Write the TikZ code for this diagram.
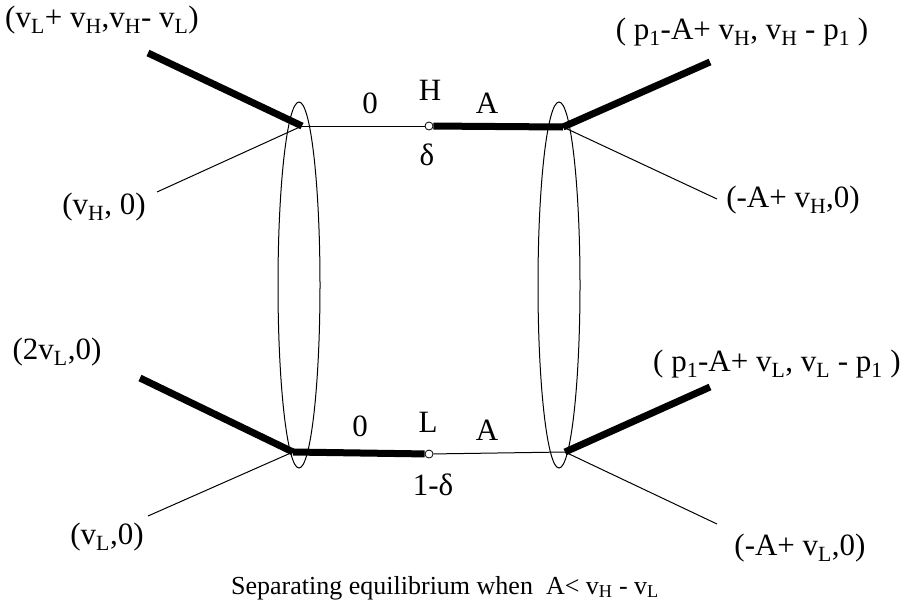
\documentclass[tikz,border=0pt]{standalone}
\usepackage{fontspec}
\setmainfont{Liberation Serif}
\newcommand{\low}[1]{\textsubscript{#1}}
\tikzset{
  eqpath/.style={line width=7pt},
  offpath/.style={line width=1pt},
  infoset/.style={line width=1pt},
  chance/.style={circle, draw, fill=white, line width=0.8pt, inner sep=0pt, minimum size=8pt},
  payoff/.style={inner sep=0pt}
}
\begin{document}
\begin{tikzpicture}[x=1pt, y=-1pt, font=\fontsize{31}{37}\selectfont]
\useasboundingbox (0,0) rectangle (904,603);

% Information sets
\draw[infoset] (299,285) ellipse (21pt and 183pt);
\draw[infoset] (559,285) ellipse (21pt and 183pt);

% Decision points
\coordinate (rH) at (302,126);
\coordinate (rL) at (293,452);
\coordinate (aH) at (563,127);
\coordinate (aL) at (565,452);
\node[chance] (nH) at (429,126) {};
\node[chance] (nL) at (429,454) {};

% Free ends
\coordinate (rHup) at (148,53);
\coordinate (rHdn) at (157,192);
\coordinate (rLup) at (140,378);
\coordinate (rLdn) at (148,516);
\coordinate (aHup) at (710,62);
\coordinate (aHdn) at (717,199);
\coordinate (aLup) at (710,387);
\coordinate (aLdn) at (717,524);

% Type H
\draw[offpath] (rH) -- (nH);
\draw[eqpath] (nH) -- (aH);
\draw[eqpath] (rHup) -- (rH);
\draw[offpath] (rH) -- (rHdn);
\draw[eqpath] (aH) -- (aHup);
\draw[offpath] (aH) -- (aHdn);

% Type L
\draw[eqpath] (rL) -- (nL);
\draw[offpath] (nL) -- (aL);
\draw[eqpath] (rLup) -- (rL);
\draw[offpath] (rL) -- (rLdn);
\draw[eqpath] (aL) -- (aLup);
\draw[offpath] (aL) -- (aLdn);

% Labels
\node (zH) at (370,103) {0};
\node (tH) at (430,90) {H};
\node (AH) at (487,103) {A};
\node (dH) at (427,155) {δ};
\node (zL) at (360,426) {0};
\node (tL) at (428,422) {L};
\node (AL) at (487,430) {A};
\node (dL) at (433,485) {1-δ};

% Payoffs
\node[payoff] (pHup) at (102,20) {(v\low{L}+ v\low{H},v\low{H}- v\low{L})};
\node[payoff] (pHdn) at (104,207) {(v\low{H}, 0)};
\node[payoff] (qHup) at (742,32) {( p\low{1}-A+ v\low{H}, v\low{H} - p\low{1} )};
\node[payoff] (qHdn) at (793,200) {(-A+ v\low{H},0)};
\node[payoff] (pLup) at (57,352) {(2v\low{L},0)};
\node[payoff] (pLdn) at (107,537) {(v\low{L},0)};
\node[payoff] (qLup) at (777,364) {( p\low{1}-A+ v\low{L}, v\low{L} - p\low{1} )};
\node[payoff] (qLdn) at (800,548) {(-A+ v\low{L},0)};

\node[font=\fontsize{26}{31}\selectfont] (cap) at (445,588) {Separating equilibrium when\ \ A< v\low{H} - v\low{L}};
\end{tikzpicture}
\end{document}
